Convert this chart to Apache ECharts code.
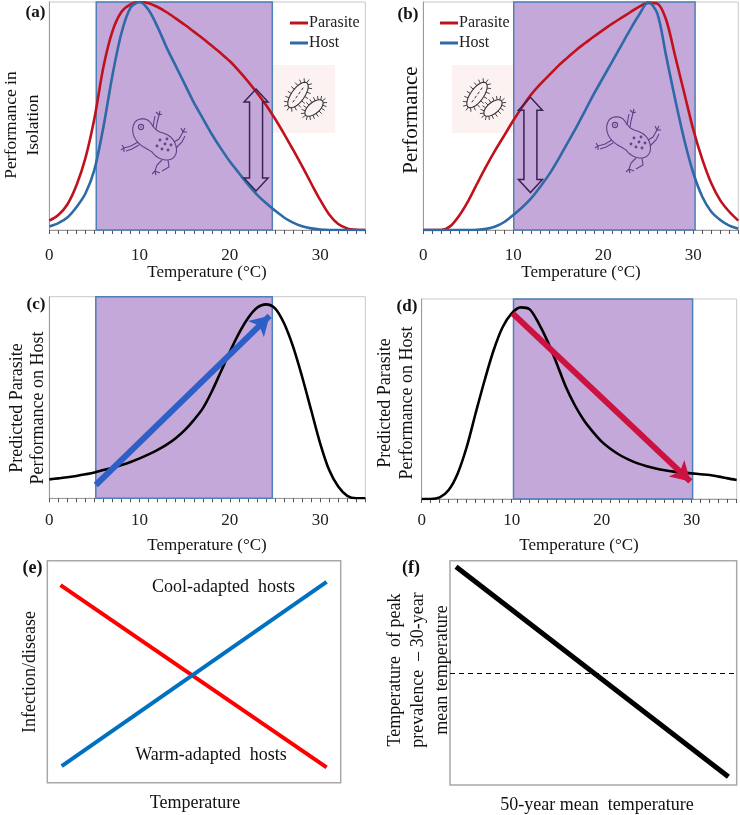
<!DOCTYPE html>
<html><head><meta charset="utf-8">
<script src="https://cdn.jsdelivr.net/npm/echarts@6/dist/echarts.min.js"></script>
<style>html,body{margin:0;padding:0;background:#fff}#c{width:740px;height:815px}</style>
</head><body><div id="c"></div>
<script>
// ---------- data ----------
const tickValues = [0,1,2,3,4,5,6,7,8,9,10,11,12,13,14,15,16,17,18,19,20,21,22,23,24,25,26,27,28,29,30,31,32,33,34,35];
const tickLabels = [0,10,20,30];

const parasiteA = [[0,0.041],[1,0.066],[2,0.112],[3,0.195],[4,0.315],[5,0.49],[6,0.716],[7,0.872],[8,0.957],[9,0.99],[10,1],[11,0.995],[12,0.978],[13,0.955],[14,0.928],[15,0.9],[16,0.87],[17,0.84],[18,0.808],[19,0.775],[20,0.74],[21,0.698],[22,0.652],[23,0.602],[24,0.548],[25,0.488],[26,0.422],[27,0.352],[28,0.28],[29,0.205],[30,0.132],[31,0.068],[32,0.026],[33,0.007],[34,0.001],[35,0]];
const hostA = [[0,0.015],[1,0.03],[2,0.055],[3,0.1],[4,0.16],[5,0.265],[6,0.453],[7,0.68],[8,0.865],[9,0.975],[10,1],[11,0.965],[12,0.89],[13,0.8],[14,0.72],[15,0.64],[16,0.56],[17,0.49],[18,0.42],[19,0.358],[20,0.3],[21,0.25],[22,0.2],[23,0.155],[24,0.118],[25,0.085],[26,0.055],[27,0.032],[28,0.016],[29,0.007],[30,0.002],[31,0],[32,0],[33,0],[34,0],[35,0]];
const shadeA = [5.2, 24.7];
const arrowA = [[22.9, 0.618, 0.171]];

const parasiteB = [[0,0],[1,0],[2,0],[3,0.017],[4,0.064],[5,0.128],[6,0.205],[7,0.28],[8,0.35],[9,0.415],[10,0.48],[11,0.54],[12,0.595],[13,0.64],[14,0.68],[15,0.72],[16,0.755],[17,0.79],[18,0.82],[19,0.85],[20,0.878],[21,0.905],[22,0.93],[23,0.955],[24,0.98],[25,0.996],[26,0.993],[27,0.92],[28,0.76],[29,0.6],[30,0.44],[31,0.31],[32,0.205],[33,0.13],[34,0.08],[35,0.041]];
const hostB = [[0,0],[1,0],[2,0],[3,0],[4,0],[5,0],[6,0.001],[7,0.005],[8,0.015],[9,0.035],[10,0.066],[11,0.1],[12,0.14],[13,0.19],[14,0.245],[15,0.31],[16,0.38],[17,0.45],[18,0.525],[19,0.6],[20,0.67],[21,0.74],[22,0.81],[23,0.88],[24,0.945],[25,1],[26,0.95],[27,0.76],[28,0.57],[29,0.395],[30,0.25],[31,0.146],[32,0.08],[33,0.044],[34,0.019],[35,0.006]];
const shadeB = [10.05, 30.2];
const arrowB = [[11.9, 0.582, 0.164]];

const curveC = [[0,0.094],[1,0.099],[2,0.104],[3,0.111],[4,0.119],[5,0.128],[6,0.14],[7,0.152],[8,0.165],[9,0.18],[10,0.198],[11,0.218],[12,0.24],[13,0.266],[14,0.298],[15,0.338],[16,0.388],[17,0.446],[18,0.53],[19,0.628],[20,0.727],[21,0.818],[22,0.893],[23,0.945],[24,0.962],[25,0.942],[26,0.868],[27,0.752],[28,0.603],[29,0.438],[30,0.273],[31,0.14],[32,0.058],[33,0.012],[34,0],[35,0]];
const shadeC = [5.15, 24.7];
const trendC = [[5.15, 0.066], [24.4, 0.905]];

const curveD = [[0,0],[1,0],[2,0.008],[3,0.045],[4,0.128],[5,0.26],[6,0.43],[7,0.595],[8,0.745],[9,0.86],[10,0.928],[11,0.958],[12,0.948],[13,0.878],[14,0.787],[15,0.678],[16,0.562],[17,0.47],[18,0.395],[19,0.337],[20,0.287],[21,0.25],[22,0.22],[23,0.197],[24,0.178],[25,0.164],[26,0.153],[27,0.144],[28,0.137],[29,0.132],[30,0.128],[31,0.124],[32,0.12],[33,0.112],[34,0.103],[35,0.095]];
const shadeD = [10.2, 30.1];
const trendD = [[10.1, 0.928], [29.85, 0.088]];

const warmAdaptedE = [[0.045,0.89],[0.952,0.069]];
const coolAdaptedE = [[0.049,0.075],[0.952,0.905]];
const peakF = [[0.021,0.973],[0.971,0.037]];
const zeroF = 0.498;

// ---------- styles ----------
const SERIF = '"Liberation Serif", "Times New Roman", serif';
const RED = '#c0121c', BLUE = '#2f69a6';
const SHADE = 'rgba(140,82,182,0.5)', SHADE_BORDER = '#4f80b8';

const chart = echarts.init(document.getElementById('c'), null, {renderer:'canvas'});

const gridsPx = [
  {left:49.3, top:2, width:316, height:228},
  {left:423.3, top:2, width:315, height:228},
  {left:49.3, top:296.7, width:316, height:201.6},
  {left:421.7, top:299, width:315, height:200},
  {left:47.3, top:560.7, width:293.4, height:222},
  {left:450, top:560.7, width:286.7, height:224.3}
];
const labelMargin = [17, 17, 13.5, 13];

const grid = gridsPx.map((g,i)=>Object.assign({show:true, backgroundColor:'transparent',
  borderColor: i<4 ? '#c8c8c8' : '#a8a8a8', borderWidth: i<4 ? 1 : 1.5, containLabel:false}, g));

const xAxis = [], yAxis = [];
for (let i=0;i<6;i++){
  if (i<4){
    xAxis.push({type:'value', gridIndex:i, min:0, max:35,
      axisLine:{show:true, lineStyle:{color:'#9a9a9a', width:1}},
      axisTick:{show:true, customValues:tickValues, length:4, lineStyle:{color:'#555', width:1}},
      axisLabel:{customValues:tickLabels, fontFamily:SERIF, fontSize:17, color:'#222', margin:labelMargin[i]},
      splitLine:{show:false}});
    yAxis.push({type:'value', gridIndex:i, min:0, max:1,
      axisLine:{show:true, lineStyle:{color:'#9a9a9a', width:1}},
      axisTick:{show:false}, axisLabel:{show:false}, splitLine:{show:false}});
  } else {
    xAxis.push({type:'value', gridIndex:i, min:0, max:1, show:false});
    yAxis.push({type:'value', gridIndex:i, min:0, max:1, show:false});
  }
}

function curve(name, data, idx, color, width){
  return {type:'line', name, data, xAxisIndex:idx, yAxisIndex:idx, smooth:0.3,
    showSymbol:false, symbol:'none', z:2, silent:true,
    lineStyle:{color, width}, itemStyle:{color}};
}
function shade(range, idx){
  return {type:'line', data:[], xAxisIndex:idx, yAxisIndex:idx, z:3, silent:true,
    markArea:{silent:true, itemStyle:{color:SHADE, borderColor:SHADE_BORDER, borderWidth:1.5},
      data:[[{xAxis:range[0]},{xAxis:range[1]}]]}};
}
function doubleArrow(data, idx){
  return {type:'custom', data, xAxisIndex:idx, yAxisIndex:idx, z:6, silent:true,
    encode:{x:0, y:[1,2]},
    renderItem(params, api){
      const top = api.coord([api.value(0), api.value(1)]);
      const bot = api.coord([api.value(0), api.value(2)]);
      const cx = top[0], t = top[1], b = bot[1];
      const hw = 12, sw = 6.5, hl = 13;
      return {type:'polygon', shape:{points:[[cx,t],[cx+hw,t+hl],[cx+sw,t+hl],[cx+sw,b-hl],[cx+hw,b-hl],[cx,b],[cx-hw,b-hl],[cx-sw,b-hl],[cx-sw,t+hl],[cx-hw,t+hl]]},
        style:{fill:'rgba(0,0,0,0)', stroke:'#3a2352', lineWidth:1.5}};
    }};
}
function trendArrow(pts, idx, color){
  return {type:'line', data:[], xAxisIndex:idx, yAxisIndex:idx, z:7, silent:true,
    markLine:{silent:true, symbol:['none','arrow'], symbolSize:[17,19], animation:false,
      lineStyle:{color, width:6, type:'solid'}, label:{show:false},
      data:[[{coord:pts[0]},{coord:pts[1]}]]}};
}
function straight(data, idx, color, width){
  return {type:'line', data, xAxisIndex:idx, yAxisIndex:idx, showSymbol:false, symbol:'none',
    silent:true, lineStyle:{color, width, cap:'butt'}, z:3};
}

const series = [
  curve('Parasite', parasiteA, 0, RED, 2.6),
  curve('Host', hostA, 0, BLUE, 2.6),
  shade(shadeA, 0),
  doubleArrow(arrowA, 0),
  curve('Parasite', parasiteB, 1, RED, 2.6),
  curve('Host', hostB, 1, BLUE, 2.6),
  shade(shadeB, 1),
  doubleArrow(arrowB, 1),
  curve('c', curveC, 2, '#000', 2.6),
  shade(shadeC, 2),
  trendArrow(trendC, 2, '#2e5fc6'),
  curve('d', curveD, 3, '#000', 2.6),
  shade(shadeD, 3),
  trendArrow(trendD, 3, '#cc1240'),
  straight(warmAdaptedE, 4, '#ff0000', 4),
  straight(coolAdaptedE, 4, '#0070c0', 4),
  Object.assign(straight(peakF, 5, '#000', 5), {
    markLine:{silent:true, symbol:['none','none'], label:{show:false},
      lineStyle:{color:'#000', width:1, type:[5,4]}, data:[{yAxis:zeroF}]}})
];

const legendCommon = {orient:'vertical', selectedMode:false, icon:'rect', itemWidth:18, itemHeight:3,
  itemGap:2, textStyle:{fontFamily:SERIF, fontSize:16, color:'#222', lineHeight:18, padding:[0,0,0,-4]}, data:['Parasite','Host']};
const legend = [
  Object.assign({left:285, top:9}, legendCommon),
  Object.assign({left:435, top:9}, legendCommon)
];

// ---------- text ----------
function txt(text, x, y, size, opts={}){
  return {type:'text', x, y, rotation: opts.rot ? Math.PI/2 : 0, z:50, silent:true,
    style:{text, fill:'#111', font:(opts.bold?'bold ':'')+size+'px '+SERIF,
      textAlign:'center', textVerticalAlign:'middle', lineHeight: opts.lh || size*1.2}};
}
const texts = [
  txt('(a)', 35.5, 13, 17, {bold:true}),
  txt('(b)', 408, 15, 17, {bold:true}),
  txt('(c)', 36, 305, 17, {bold:true}),
  txt('(d)', 407, 306.7, 17, {bold:true}),
  txt('(e)', 32.5, 568, 18, {bold:true}),
  txt('(f)', 411, 568, 18, {bold:true}),
  txt('Performance in\nIsolation', 22.5, 125, 17.5, {rot:true, lh:21.6}),
  txt('Performance', 411.7, 120, 21, {rot:true}),
  txt('Predicted Parasite\nPerformance on Host', 27.5, 408, 18, {rot:true, lh:21}),
  txt('Predicted Parasite\nPerformance on Host', 396.5, 403, 18, {rot:true, lh:22}),
  txt('Temperature (°C)', 207, 273, 17),
  txt('Temperature (°C)', 581, 273, 17),
  txt('Temperature (°C)', 207, 546, 17),
  txt('Temperature (°C)', 579, 546, 17),
  txt('Cool-adapted  hosts', 223.5, 587, 18),
  txt('Warm-adapted  hosts', 211, 755, 18),
  txt('Infection/disease', 30, 672, 18, {rot:true}),
  txt('Temperature', 195, 803, 18),
  txt('Temperature  of peak\nprevalence  \u2013 30-year\nmean temperature', 418.5, 670, 18, {rot:true, lh:23.5}),
  txt('50-year mean  temperature', 597, 805, 18)
];

// ---------- decorative icons ----------
function bez(p0,p1,p2,p3,n=10){
  const out=[];
  for(let i=0;i<=n;i++){const t=i/n,u=1-t;
    out.push([u*u*u*p0[0]+3*u*u*t*p1[0]+3*u*t*t*p2[0]+t*t*t*p3[0], u*u*u*p0[1]+3*u*u*t*p1[1]+3*u*t*t*p2[1]+t*t*t*p3[1]]);}
  return out;
}
function frog(ox, oy){
  const stroke = {stroke:'#3a2a58', lineWidth:1.1, fill:null};
  const C = (segs)=>{let pts=[];segs.forEach(s=>{pts=pts.concat(bez(...s));});return pts;};
  const body = C([
    [[12,12],[14,6],[24,5],[28,10]],
    [[28,10],[31,14],[33,18],[38,20]],
    [[38,20],[46,22],[52,26],[54,34]],
    [[54,34],[56,42],[52,48],[45,48]],
    [[45,48],[38,48],[33,44],[30,40]],
    [[30,40],[24,36],[18,34],[14,28]],
    [[14,28],[10,22],[10,16],[12,12]]
  ]);
  const lines = [
    body,
    [[34,17],[35,11],[37,3]], [[37,3],[34,0]], [[37,3],[38,-1]], [[37,3],[40,2]],
    [[31,15],[32,9],[33,4]],
    [[16,30],[9,34],[2,36]], [[2,36],[0,33]], [[2,36],[-1,38]], [[2,36],[2,40]],
    [[17,33],[10,37],[4,39]],
    [[52,30],[57,27],[61,20]], [[61,20],[59,16]], [[61,20],[63,16]], [[61,20],[65,20]],
    [[54,36],[60,30],[63,24]],
    [[40,48],[35,53],[33,59]], [[33,59],[30,62]], [[33,59],[34,63]], [[33,59],[38,61]],
    [[46,48],[47,55],[40,59]]
  ];
  const children = lines.map(p=>({type:'polyline', shape:{points:p}, style:Object.assign({}, stroke)}));
  children.push({type:'circle', shape:{cx:19,cy:15,r:2.6}, style:Object.assign({}, stroke)});
  children.push({type:'circle', shape:{cx:19,cy:15,r:0.8}, style:{fill:'#3a2a58'}});
  [[38,28],[43,32],[40,37],[46,38],[35,34],[45,27],[49,33]].forEach(s=>
    children.push({type:'circle', shape:{cx:s[0],cy:s[1],r:0.9}, style:Object.assign({}, stroke)}));
  return {type:'group', x:ox, y:oy, z:40, silent:true, children};
}
function rod(cx, cy, rx, ry, ang, dashed){
  const ca=Math.cos(ang), sa=Math.sin(ang), outline=[], kids=[];
  for(let i=0;i<=40;i++){const t=i/40*2*Math.PI, lx=rx*Math.cos(t), ly=ry*Math.sin(t);
    outline.push([cx+lx*ca-ly*sa, cy+lx*sa+ly*ca]);}
  kids.push({type:'polyline', shape:{points:outline}, style:{stroke:'#333', lineWidth:1.1, fill:null}});
  for(let i=0;i<18;i++){const t=i/18*2*Math.PI, lx=rx*Math.cos(t), ly=ry*Math.sin(t);
    let nx=Math.cos(t)/rx, ny=Math.sin(t)/ry; const nl=Math.hypot(nx,ny); nx/=nl; ny/=nl;
    const x1=cx+lx*ca-ly*sa, y1=cy+lx*sa+ly*ca;
    const dx=nx*ca-ny*sa, dy=nx*sa+ny*ca;
    kids.push({type:'line', shape:{x1, y1, x2:x1+dx*4, y2:y1+dy*4}, style:{stroke:'#333', lineWidth:0.9}});}
  if(dashed){kids.push({type:'line', shape:{x1:cx-rx*0.6*ca, y1:cy-rx*0.6*sa, x2:cx+rx*0.6*ca, y2:cy+rx*0.6*sa},
    style:{stroke:'#333', lineWidth:1, lineDash:[3,2]}});}
  return kids;
}
function bacteria(ox, oy){
  const children=[{type:'rect', shape:{x:0,y:0,width:62,height:68}, style:{fill:'#fcf2f2'}}]
    .concat(rod(25,30,15,6.5,-0.95,true), rod(41,43,11,5.5,-0.7,false));
  return {type:'group', x:ox, y:oy, z:1, silent:true, children};
}
const icons = [frog(122,112), frog(596,110), bacteria(273,65), bacteria(452,65)];

chart.setOption({
  animation:false,
  grid, xAxis, yAxis, series, legend,
  graphic:{elements: icons.concat(texts)}
});
</script></body></html>
